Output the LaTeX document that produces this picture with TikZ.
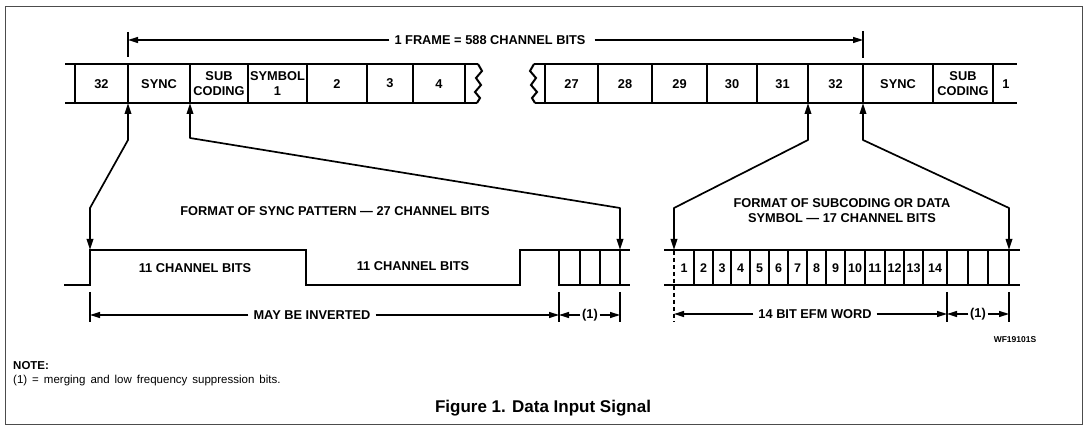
\documentclass[tikz,border=0pt]{standalone}
\usepackage{fontspec}
\setmainfont{Liberation Sans}
\usetikzlibrary{arrows.meta}
\tikzset{
  border/.style={draw=black!70, line width=0.8pt},
  rowline/.style={line width=2.8pt},
  cellsep/.style={line width=2.2pt},
  zig/.style={line width=2pt, line join=miter},
  wave/.style={line width=2.5pt, line join=miter, line cap=rect},
  conn/.style={line width=1.7pt, line join=round,
    {Triangle[length=11pt,width=6.5pt]}-{Triangle[length=11pt,width=6.5pt]}},
  dimarrow/.style={line width=1.5pt, -{Triangle[length=10pt,width=6pt]}},
  dimtick/.style={line width=1.6pt},
  dashtick/.style={line width=1.6pt, dash pattern=on 4pt off 3pt},
  lbl/.style={font=\fontsize{12.8}{15}\selectfont\bfseries, inner sep=0pt, align=center},
  numlbl/.style={font=\fontsize{12.5}{13}\selectfont\bfseries, inner sep=0pt, text height=9pt, text depth=0pt},
}
\begin{document}
\begin{tikzpicture}[x=1pt,y=-1pt]
\useasboundingbox (0,0) rectangle (1084,427);
\draw[border] (5,6) rectangle (1082,424);

% ---------- frame dimension ----------
\node[lbl] (frame) at (490,40) {1 FRAME = 588 CHANNEL BITS};
\coordinate (fL) at (128,40);
\coordinate (fR) at (863,40);
\draw[dimtick] (128,32) -- (128,57);
\draw[dimtick] (863,31) -- (863,58);
\draw[dimarrow] ([xshift=-5pt]frame.west) -- (fL);
\draw[dimarrow] ([xshift=9pt]frame.east) -- (fR);

% ---------- top row, left part ----------
\draw[rowline] (65,64) -- (478,64);
\draw[rowline] (65,103) -- (477,103);
\foreach \x in {75,128,190,248,307,367,413,465} \draw[cellsep] (\x,64) -- (\x,103);
\draw[zig] (478,64) -- (482,71) -- (476,78) -- (481,85) -- (475,92) -- (480,98) -- (477,103);
\node[lbl] (t32a) at (101.5,84) {32};
\node[lbl] (tsynca) at (159,84) {SYNC};
\node[lbl] (tsuba) at (219,84) {SUB\\CODING};
\node[lbl] (tsym) at (277.5,84) {SYMBOL\\1};
\node[lbl] (t2) at (337,84) {2};
\node[lbl] (t3) at (390,83) {3};
\node[lbl] (t4) at (439,84) {4};

% ---------- top row, right part ----------
\draw[rowline] (534,64) -- (1017,64);
\draw[rowline] (535,103) -- (1017,103);
\foreach \x in {545,598,652,707,757,808,863,933,993} \draw[cellsep] (\x,64) -- (\x,103);
\draw[zig] (534,64) -- (530,71) -- (536,78) -- (531,85) -- (537,92) -- (532,98) -- (535,103);
\node[lbl] (t27) at (571.5,84) {27};
\node[lbl] (t28) at (625,84) {28};
\node[lbl] (t29) at (679.5,84) {29};
\node[lbl] (t30) at (732,84) {30};
\node[lbl] (t31) at (782.5,84) {31};
\node[lbl] (t32b) at (835.5,84) {32};
\node[lbl] (tsyncb) at (898,84) {SYNC};
\node[lbl] (tsubb) at (963,84) {SUB\\CODING};
\node[lbl] (t1) at (1006,84) {1};

% ---------- connector anchor points ----------
\coordinate (upA) at (128,103);
\coordinate (upB) at (190,103);
\coordinate (upC) at (808,103);
\coordinate (upD) at (863,103);
\coordinate (dnA) at (90,250);
\coordinate (dnB) at (620,250);
\coordinate (dnC) at (674,250);
\coordinate (dnD) at (1009,250);

\draw[conn] (upA) -- (128,140) -- (90,208) -- (dnA);
\draw[conn] (upB) -- (190,138) -- (620,208) -- (dnB);
\draw[conn] (upC) -- (808,140) -- (674,208) -- (dnC);
\draw[conn] (upD) -- (863,140) -- (1009,208) -- (dnD);

\node[lbl] (fsync) at (335,211) {FORMAT OF SYNC PATTERN --- 27 CHANNEL BITS};
\node[lbl] (fsub) at (842,211) {FORMAT OF SUBCODING OR DATA\\SYMBOL --- 17 CHANNEL BITS};

% ---------- sync pattern waveform ----------
\draw[wave] (65,285) -- (90,285) -- (90,250) -- (306,250) -- (306,285)
  -- (520,285) -- (520,250) -- (559,250) -- (559,285);
\draw[wave] (559,250) -- (629,250);
\draw[wave] (559,285) -- (629,285);
\foreach \x in {580,600,620} \draw[cellsep] (\x,250) -- (\x,285);
\node[lbl] (cb1) at (195,268) {11 CHANNEL BITS};
\node[lbl] (cb2) at (413,266) {11 CHANNEL BITS};

% dimensions under sync pattern
\draw[dimtick] (90,292) -- (90,322);
\draw[dimtick] (559,292) -- (559,322);
\draw[dimtick] (620,292) -- (620,322);
\coordinate (mA) at (90,315);
\coordinate (mB) at (559,315);
\coordinate (mC) at (620,315);
\node[lbl] (may) at (312,315) {MAY BE INVERTED};
\draw[dimarrow] ([xshift=-5pt]may.west) -- (mA);
\draw[dimarrow] ([xshift=5pt]may.east) -- (mB);
\node[lbl] (m1) at (590,315) {(1)};
\draw[dimarrow] ([xshift=-1.5pt]m1.west) -- (mB);
\draw[dimarrow] ([xshift=1.5pt]m1.east) -- (mC);

% ---------- data symbol bits ----------
\draw[wave] (665,250) -- (1019,250);
\draw[wave] (665,285) -- (1019,285);
\foreach \x in {694,713,731,750,769,788,807,826,845,865,885,904,923,947,968,988,1009}
  \draw[cellsep] (\x,250) -- (\x,285);
\draw[dashtick] (674,251) -- (674,322);
\foreach \n/\x in {1/684,2/703.5,3/722,4/740.5,5/759.5,6/778.5,7/797.5,8/816.5,9/835.5,10/855,11/875,12/894.5,13/913.5,14/935}
  \node[numlbl] (b\n) at (\x,268) {\n};

\draw[dimtick] (947,292) -- (947,322);
\draw[dimtick] (1009,292) -- (1009,322);
\coordinate (eA) at (674,314);
\coordinate (eB) at (947,314);
\coordinate (eC) at (1009,314);
\node[lbl] (efm) at (815,314) {14 BIT EFM WORD};
\draw[dimarrow] ([xshift=-5pt]efm.west) -- (eA);
\draw[dimarrow] ([xshift=5pt]efm.east) -- (eB);
\node[lbl] (m2) at (978,314) {(1)};
\draw[dimarrow] ([xshift=-1.5pt]m2.west) -- (eB);
\draw[dimarrow] ([xshift=1.5pt]m2.east) -- (eC);

% ---------- texts ----------
\node[font=\fontsize{8.5}{9}\selectfont\bfseries, inner sep=0pt] (wf) at (1015,340) {WF19101S};
\node[font=\fontsize{11.5}{12}\selectfont\bfseries, inner sep=0pt, anchor=west] (note) at (13,366) {NOTE:};
\node[font=\fontsize{11.5}{12}\selectfont, inner sep=0pt, anchor=west] (notetxt) at (13,381)
  {\spaceskip=5pt plus 1pt (1) = merging and low frequency suppression bits.};
\node[font=\fontsize{17}{19}\selectfont\bfseries, inner sep=0pt] (cap) at (543,408) {Figure 1. Data Input Signal};
\end{tikzpicture}
\end{document}
